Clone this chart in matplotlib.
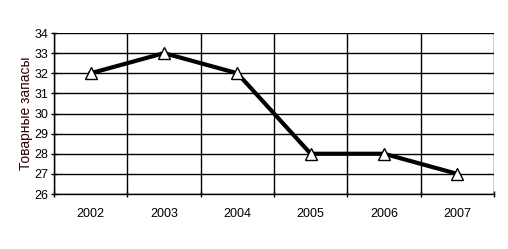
import matplotlib.pyplot as plt

years = ["2002", "2003", "2004", "2005", "2006", "2007"]
stocks = [32, 33, 32, 28, 28, 27]
y_ticks = list(range(26, 35))

plt.rcParams['font.family'] = ['Liberation Sans', 'DejaVu Sans']

fig = plt.figure(figsize=(5.08, 2.49), dpi=100)
ax = fig.add_axes([54 / 508, 1 - 194 / 249, 440 / 508, 161 / 249])

x = list(range(len(years)))
ax.plot(x, stocks, color='black', linewidth=3, marker='^', markersize=9,
        markerfacecolor='white', markeredgecolor='black', markeredgewidth=1,
        zorder=3)

ax.set_xlim(-0.5, len(years) - 0.5)
ax.set_ylim(26, 34)
ax.set_yticks(y_ticks)
ax.set_xticks(x)
ax.set_xticklabels(years)
ax.set_xticks([i - 0.5 for i in range(len(years) + 1)], minor=True)

ax.grid(True, axis='y', color='black', linewidth=1)
ax.grid(True, axis='x', which='minor', color='black', linewidth=1)
ax.tick_params(axis='x', which='major', length=0, labelsize=9, pad=10)
ax.tick_params(axis='x', which='minor', length=4, direction='inout', width=1)
ax.tick_params(axis='y', length=4, direction='inout', width=1, labelsize=9, pad=2)

for side in ['top', 'right']:
    ax.spines[side].set_visible(False)
ax.spines['left'].set_linewidth(1)
ax.spines['bottom'].set_linewidth(1)

ax.set_ylabel("Товарные запасы", fontsize=10, labelpad=1, color='#300000')

fig.savefig("out.png", dpi=100)
